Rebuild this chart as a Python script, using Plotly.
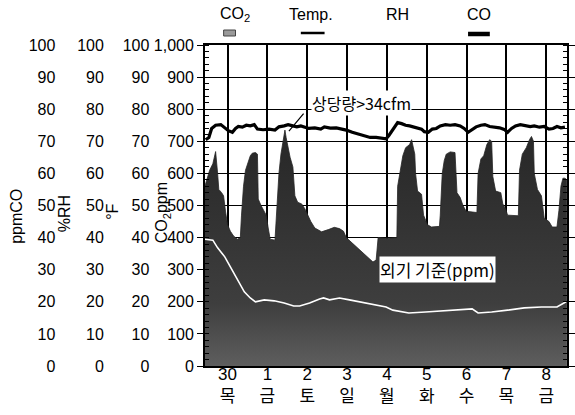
import plotly.graph_objects as go

# ---------------- data (x in days from "30 목", 0 = 30th) ----------------
day_ticks = [0, 1, 2, 3, 4, 5, 6, 7, 8]
day_nums = ["30", "1", "2", "3", "4", "5", "6", "7", "8"]
day_names = ["목", "금", "토", "일", "월", "화", "수", "목", "금"]

co2_day = [-0.57, -0.45, -0.37, -0.32, -0.30, -0.25, -0.22, -0.15, -0.10, -0.05, 0.00, 0.07, 0.15, 0.25, 0.32,
           0.35, 0.40, 0.45, 0.52, 0.57, 0.62, 0.70, 0.75, 0.77, 0.84, 0.92, 0.97, 1.02, 1.07, 1.19,
           1.24, 1.29, 1.34, 1.39, 1.42, 1.44, 1.47, 1.52, 1.57, 1.64, 1.69, 1.76, 1.86, 1.94, 2.01,
           2.09, 2.19, 2.36, 2.53, 2.68, 2.81, 2.91, 2.98, 3.23, 3.48, 3.65, 3.73, 3.78, 4.02, 4.25,
           4.27, 4.35, 4.40, 4.47, 4.57, 4.62, 4.65, 4.70, 4.72, 4.77, 4.87, 4.92, 5.02, 5.12, 5.32,
           5.34, 5.39, 5.44, 5.49, 5.59, 5.71, 5.76, 5.84, 5.91, 5.99, 6.26, 6.29, 6.36, 6.43, 6.51,
           6.58, 6.63, 6.66, 6.73, 6.86, 6.91, 6.98, 7.03, 7.30, 7.33, 7.40, 7.50, 7.58, 7.63, 7.68,
           7.70, 7.78, 7.88, 7.95, 8.07, 8.15, 8.27, 8.32, 8.37, 8.42, 8.47, 8.52]
co2_ppm = [560, 610, 630, 660, 668, 600, 550, 540, 530, 480, 440, 420, 405, 395, 400,
           470, 560, 610, 635, 655, 663, 665, 660, 520, 500, 480, 470, 430, 395, 392,
           500, 600, 660, 700, 712, 735, 712, 680, 650, 620, 530, 510, 505, 490, 470,
           450, 430, 418, 425, 432, 428, 420, 400, 372, 345, 324, 330, 400, 398, 400,
           560, 620, 655, 680, 690, 705, 690, 660, 600, 545, 535, 470, 440, 433, 435,
           470, 600, 640, 660, 667, 665, 540, 525, 500, 482, 478, 600, 645, 655, 690,
           705, 700, 590, 545, 540, 505, 490, 470, 468, 610, 660, 680, 705, 715, 700,
           600, 550, 530, 460, 450, 433, 433, 485, 560, 585, 585, 580]

outdoor_day = [-0.57, -0.37, -0.25, -0.07, 0.07, 0.25, 0.42, 0.57, 0.70, 0.92, 1.17, 1.42, 1.66, 1.81,
               2.06, 2.31, 2.41, 2.56, 2.81, 3.06, 3.30, 3.55, 3.98, 4.15, 4.55, 4.97, 5.39, 5.79,
               6.14, 6.29, 6.63, 7.03, 7.45, 7.88, 8.27, 8.50]
outdoor_ppm = [395, 392, 368, 340, 309, 268, 231, 212, 200, 206, 203, 196, 187, 187,
               196, 209, 212, 206, 212, 206, 200, 193, 184, 174, 165, 168, 171, 174,
               178, 165, 168, 174, 181, 184, 184, 200]

temp_day = [-0.55, -0.47, -0.40, -0.30, -0.17, -0.07, 0.02, 0.12, 0.20, 0.27, 0.37, 0.47, 0.57, 0.67,
            0.75, 0.89, 1.04, 1.19, 1.29, 1.42, 1.52, 1.64, 1.74, 1.84, 1.94, 2.04, 2.19, 2.34,
            2.43, 2.58, 2.73, 2.88, 2.98, 3.13, 3.28, 3.43, 3.58, 3.73, 3.88, 3.98, 4.05, 4.12,
            4.20, 4.27, 4.37, 4.47, 4.57, 4.67, 4.77, 4.87, 4.94, 5.04, 5.14, 5.24, 5.34, 5.47,
            5.59, 5.71, 5.84, 5.94, 6.04, 6.14, 6.24, 6.36, 6.46, 6.58, 6.71, 6.83, 6.96, 7.03,
            7.13, 7.23, 7.35, 7.48, 7.60, 7.70, 7.83, 7.95, 8.07, 8.17, 8.27, 8.37, 8.47]
temp_f = [70.5, 71.2, 74.0, 75.0, 75.2, 74.2, 73.3, 72.8, 74.0, 74.6, 74.4, 75.0, 74.8, 75.2,
          73.8, 73.6, 73.8, 73.5, 74.5, 74.8, 75.2, 74.8, 74.5, 74.8, 74.5, 74.0, 74.2, 73.8,
          74.5, 74.1, 74.2, 73.8, 73.5, 72.8, 72.2, 71.6, 71.2, 71.2, 71.0, 70.8, 71.8, 73.0,
          74.5, 75.8, 75.5, 75.0, 74.8, 74.4, 74.2, 73.8, 73.0, 72.8, 73.8, 74.0, 74.8, 75.2,
          75.0, 75.2, 74.8, 74.0, 72.8, 73.8, 74.5, 75.0, 75.2, 74.6, 74.4, 74.2, 73.6, 72.8,
          74.0, 74.8, 75.2, 75.0, 74.6, 74.8, 74.4, 74.6, 73.8, 74.0, 74.6, 74.2, 74.4]

# RH and CO are listed in the legend but show no visible trace in the chart
rh_day, rh_pct = [], []
co_day, co_ppm = [], []

co2_ticks = list(range(0, 1001, 100))
pct_ticks = list(range(0, 101, 10))

# ---------------- styling ----------------
NUMF = "Liberation Sans Narrow, Arial Narrow, Liberation Sans, Noto Sans CJK KR, sans-serif"
KR = "Noto Sans CJK KR, sans-serif"
W, H = 575, 415
ML, MR, MT, MB = 0, 2, 45, 49
PW = W - ML - MR
PH = H - MT - MB


def px_x(p):
    return (p - ML) / PW


def px_y(p):
    return (H - MB - p) / PH


fig = go.Figure()

fig.add_trace(go.Scatter(
    x=co2_day, y=co2_ppm, mode="lines", fill="tozeroy", name="CO2",
    line=dict(color="#262626", width=0.8),
    fillgradient=dict(type="vertical", start=0, stop=650,
                      colorscale=[[0, "#5e5e5e"], [0.3, "#3e3e3e"], [1, "#2a2a2a"]]),
    showlegend=False, hoverinfo="skip"))

fig.add_trace(go.Scatter(
    x=outdoor_day, y=outdoor_ppm, mode="lines", name="외기 기준",
    line=dict(color="white", width=1.6),
    showlegend=False, hoverinfo="skip"))

fig.add_trace(go.Scatter(
    x=temp_day, y=temp_f, mode="lines", yaxis="y4", name="Temp.",
    line=dict(color="black", width=3.2),
    showlegend=False, hoverinfo="skip"))

fig.add_trace(go.Scatter(x=rh_day, y=rh_pct, mode="lines", yaxis="y3", name="RH",
                         showlegend=False, hoverinfo="skip"))
fig.add_trace(go.Scatter(x=co_day, y=co_ppm, mode="lines", yaxis="y2", name="CO",
                         showlegend=False, hoverinfo="skip"))

axis_common = dict(range=[0, 100], tickvals=pct_ticks, showgrid=False, zeroline=False,
                   showline=False, ticks="", overlaying="y", anchor="free", side="left",
                   tickfont=dict(family=NUMF, size=16, color="black"), fixedrange=True)

fig.update_layout(
    width=W, height=H,
    margin=dict(l=ML, r=MR, t=MT, b=MB),
    paper_bgcolor="white", plot_bgcolor="white",
    showlegend=False,
    xaxis=dict(domain=[px_x(207), 1], range=[-0.571, 8.522],
               tickvals=day_ticks,
               ticktext=[f"{n}<br>{k}" for n, k in zip(day_nums, day_names)],
               showgrid=True, gridcolor="black", gridwidth=1.5,
               showline=True, linecolor="black", linewidth=1.5, mirror=True,
               ticks="", zeroline=False, ticklabelstandoff=-8,
               tickfont=dict(family=NUMF, size=17, color="black")),
    yaxis=dict(range=[0, 1000], tickvals=co2_ticks, tickformat=",d",
               showgrid=True, gridcolor="black", gridwidth=1.2,
               showline=True, linecolor="black", linewidth=1.5, mirror="ticks",
               ticks="outside", ticklen=6, tickcolor="black", tickwidth=1.2,
               minor=dict(dtick=20, ticks="inside", ticklen=4, tickcolor="black", tickwidth=1),
               zeroline=False,
               tickfont=dict(family=NUMF, size=16, color="black")),
    yaxis2=dict(position=px_x(56), **axis_common),
    yaxis3=dict(position=px_x(105), **axis_common),
    yaxis4=dict(position=px_x(151), **axis_common),
)

# axis titles
titles = [("ppmCO", 17, 216), ("%RH", 66, 214), ("°F", 114, 212), ("CO<sub>2</sub>ppm", 164, 213)]
for t, x, y in titles:
    fig.add_annotation(text=t, xref="paper", yref="paper", x=px_x(x), y=px_y(y),
                       showarrow=False, textangle=-90, xanchor="center", yanchor="middle",
                       font=dict(family=NUMF, size=16, color="black"))

# legend (text above symbol)
legend_items = [("CO<sub>2</sub>", 237), ("Temp.", 314), ("RH", 402), ("CO", 484)]
for t, x in legend_items:
    fig.add_annotation(text=t, xref="paper", yref="paper", x=px_x(x), y=px_y(15),
                       showarrow=False, xanchor="center", yanchor="middle",
                       font=dict(family=NUMF, size=16, color="black"))
fig.add_shape(type="rect", xref="paper", yref="paper", x0=px_x(226), x1=px_x(238),
              y0=px_y(36), y1=px_y(30), fillcolor="#9a9a9a", line=dict(color="#444", width=1))
fig.add_shape(type="line", xref="paper", yref="paper", x0=px_x(304), x1=px_x(328),
              y0=px_y(33), y1=px_y(33), line=dict(color="black", width=2.5))
fig.add_shape(type="line", xref="paper", yref="paper", x0=px_x(473), x1=px_x(495),
              y0=px_y(34), y1=px_y(34), line=dict(color="black", width=4.5))

# in-plot labels
fig.add_annotation(text="상당량>34cfm", x=3.37, y=818, xref="x", yref="y", showarrow=False,
                   bgcolor="white", font=dict(family=KR, size=16, color="black"), borderpad=0)
fig.add_annotation(text="", x=1.54, y=732, ax=1.94, ay=791, xref="x", yref="y",
                   axref="x", ayref="y", showarrow=True, arrowhead=0, arrowwidth=1.2,
                   arrowcolor="black")
fig.add_annotation(text="외기 기준(ppm)", x=5.26, y=300, xref="x", yref="y", showarrow=False,
                   bgcolor="white", font=dict(family=KR, size=17, color="black"), borderpad=0)

fig.write_html("out.html",
               config={"displayModeBar": False},
               post_script="document.body.style.margin='0';document.body.style.overflow='hidden';")
